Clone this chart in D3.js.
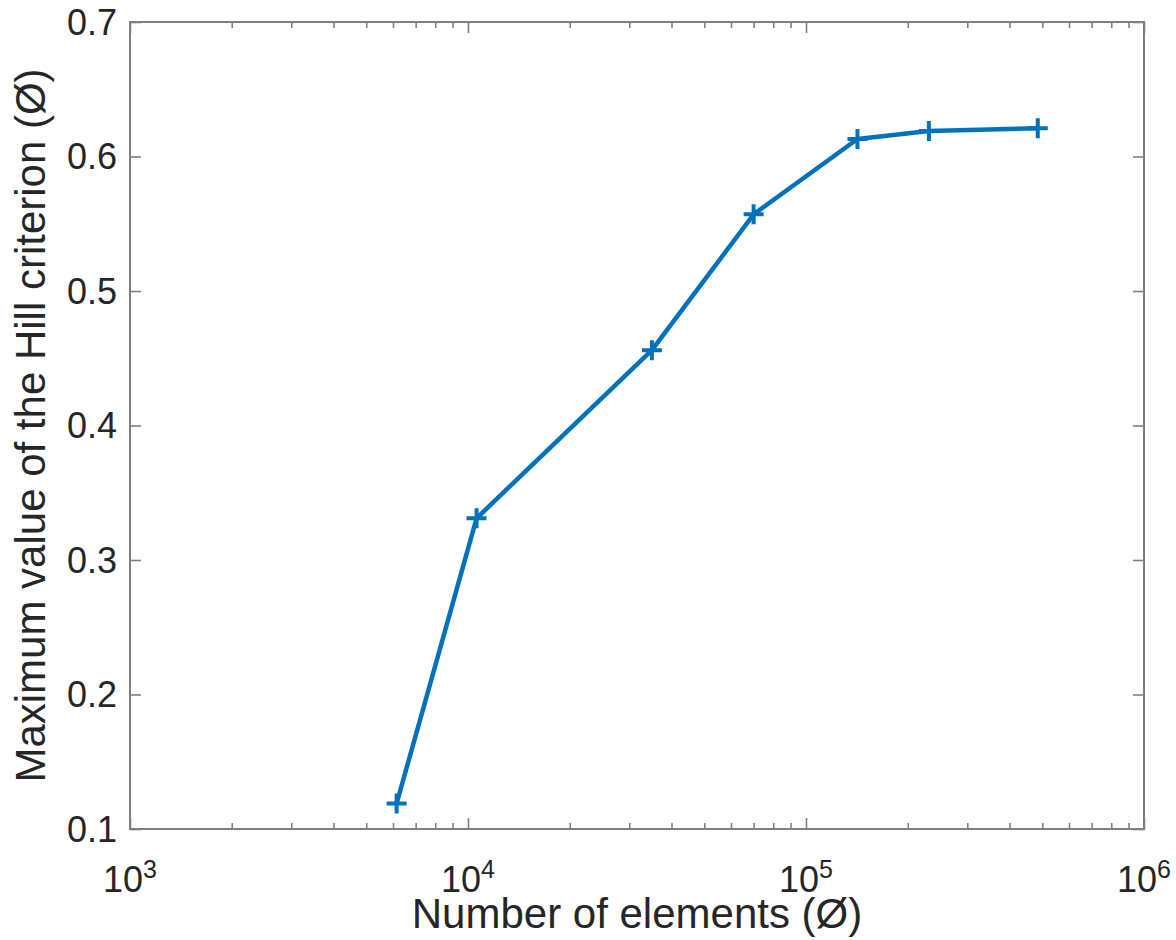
<!DOCTYPE html>
<html>
<head>
<meta charset="utf-8">
<script src="https://cdn.jsdelivr.net/npm/d3@7"></script>
<style>
  body { margin: 0; background: #fff; }
  svg text { font-family: "Liberation Sans", Arial, sans-serif; fill: #262626; }
  .axis path, .axis line { stroke: #808080; }
</style>
</head>
<body>
<script>
// data
const elements = [6150, 10600, 35000, 70000, 142000, 231000, 485000];
const hillMax = [0.119, 0.331, 0.456, 0.557, 0.613, 0.619, 0.621];
const xMajor = [1e3, 1e4, 1e5, 1e6];
const xExp = ["3", "4", "5", "6"];
const yTicks = [0.1, 0.2, 0.3, 0.4, 0.5, 0.6, 0.7];

var margin = {top: 22, right: 32, bottom: 111, left: 130},
    width = 1176 - margin.left - margin.right,
    height = 940 - margin.top - margin.bottom;

var svg = d3.select("body").append("svg")
    .attr("width", 1176)
    .attr("height", 940)
  .append("g")
    .attr("transform", "translate(" + margin.left + "," + margin.top + ")");

var x = d3.scaleLog().domain([1e3, 1e6]).range([0, width]);
var y = d3.scaleLinear().domain([0.1, 0.7]).range([height, 0]);

// minor ticks for the log axis
var xMinor = [];
for (let e = 3; e < 6; e++) {
  for (let k = 2; k <= 9; k++) xMinor.push(k * Math.pow(10, e));
}

function styleAxis(g) {
  g.attr("class", "axis");
  g.select(".domain").remove();
  g.selectAll("line").attr("stroke-width", 1.6);
}

// major and minor ticks on all four sides (pointing inward)
svg.append("g").attr("transform", "translate(0," + height + ")")
  .call(d3.axisBottom(x).tickValues(xMajor).tickSize(-11).tickFormat("")).call(styleAxis);
svg.append("g").attr("transform", "translate(0," + height + ")")
  .call(d3.axisBottom(x).tickValues(xMinor).tickSize(-6).tickFormat("")).call(styleAxis);
svg.append("g")
  .call(d3.axisTop(x).tickValues(xMajor).tickSize(-11).tickFormat("")).call(styleAxis);
svg.append("g")
  .call(d3.axisTop(x).tickValues(xMinor).tickSize(-6).tickFormat("")).call(styleAxis);
svg.append("g")
  .call(d3.axisLeft(y).tickValues(yTicks).tickSize(-11).tickFormat("")).call(styleAxis);
svg.append("g").attr("transform", "translate(" + width + ",0)")
  .call(d3.axisRight(y).tickValues(yTicks).tickSize(-11).tickFormat("")).call(styleAxis);

// box
svg.append("rect")
  .attr("width", width)
  .attr("height", height)
  .attr("fill", "none")
  .attr("stroke", "#808080")
  .attr("stroke-width", 2);

// y tick labels
svg.selectAll(".ylab").data(yTicks).enter().append("text")
  .attr("class", "ylab")
  .attr("x", -13)
  .attr("y", d => y(d))
  .attr("dy", "0.36em")
  .attr("text-anchor", "end")
  .style("font-size", "36px")
  .text(d => d.toFixed(1));

// x tick labels 10^n
var xl = svg.selectAll(".xlab").data(xMajor).enter().append("text")
  .attr("class", "xlab")
  .attr("x", d => x(d))
  .attr("y", height + 63)
  .attr("text-anchor", "middle")
  .style("font-size", "36px");
xl.append("tspan").text("10");
xl.append("tspan")
  .attr("dy", "-0.55em")
  .style("font-size", "25px")
  .text((d, i) => xExp[i]);

// axis titles
svg.append("text")
  .attr("x", width / 2)
  .attr("y", height + 99)
  .attr("text-anchor", "middle")
  .style("font-size", "42px")
  .text("Number of elements (Ø)");

svg.append("text")
  .attr("transform", "translate(" + (-85) + "," + (height / 2) + ") rotate(-90)")
  .attr("text-anchor", "middle")
  .style("font-size", "42px")
  .text("Maximum value of the Hill criterion (Ø)");

// the line
var line = d3.line()
  .x((d, i) => x(elements[i]))
  .y(d => y(d));

svg.append("path")
  .datum(hillMax)
  .attr("d", line)
  .attr("fill", "none")
  .attr("stroke", "#0072BD")
  .attr("stroke-width", 4.5)
  .attr("stroke-linejoin", "round");

// plus markers
var s = 10;
svg.selectAll(".marker").data(hillMax).enter().append("path")
  .attr("class", "marker")
  .attr("d", (d, i) => {
    var cx = x(elements[i]), cy = y(d);
    return "M" + (cx - s) + "," + cy + "H" + (cx + s) + "M" + cx + "," + (cy - s) + "V" + (cy + s);
  })
  .attr("stroke", "#0072BD")
  .attr("stroke-width", 4)
  .attr("fill", "none");
</script>
</body>
</html>
